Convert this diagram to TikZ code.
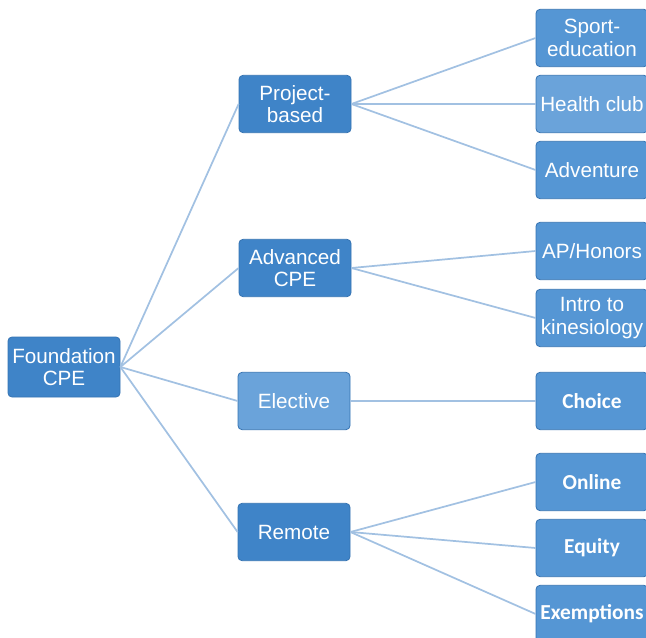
\documentclass[tikz,border=0pt]{standalone}
\usepackage{fontspec}
\setmainfont{Liberation Sans}
\newfontfamily\calibrifont{Carlito}
\usepackage{tikz}
\usetikzlibrary{positioning}

\definecolor{darkbox}{HTML}{3F84C8}
\definecolor{midbox}{HTML}{5596D4}
\definecolor{lightbox}{HTML}{6AA3DA}
\definecolor{boxline}{HTML}{3573B2}
\definecolor{linkline}{HTML}{A2C1E2}

\tikzset{
  box/.style={rectangle, rounded corners=3pt, draw=boxline, line width=0.6pt,
    text=white, align=center, inner sep=0pt,
    font=\fontsize{15.5}{17}\selectfont},
  rootbox/.style={box, fill=darkbox, minimum width=84pt, minimum height=45pt},
  branchbox/.style={box, fill=darkbox, minimum width=84pt, minimum height=43pt},
  leafbox/.style={box, fill=midbox, minimum width=84pt, minimum height=43pt},
  pale/.style={fill=lightbox},
  boldtext/.style={font=\calibrifont\bfseries\fontsize{16}{18}\selectfont},
  link/.style={draw=linkline, line width=1.3pt}
}

\begin{document}
\begin{tikzpicture}[x=0.75pt, y=-0.75pt]

    \useasboundingbox (0,0) rectangle (646,638);

    % Root
    \node[rootbox] (found) at (64,367) {Foundation\\CPE}; % foundation

    % Branches
    \node[branchbox] (proj) at (295,104) {Project-\\based}; % project-based
    \node[branchbox] (adv) at (295,268) {Advanced\\CPE}; % advanced
    \node[branchbox, pale] (elec) at (294,401) {Elective}; % elective
    \node[branchbox] (remote) at (294,532) {Remote}; % remote

    % Leaves
    \node[leafbox] (sport) at (592,38) {Sport-\\education};
    \node[leafbox, pale] (health) at (592,104) {Health club};
    \node[leafbox] (advent) at (592,170) {Adventure};
    \node[leafbox] (aphon) at (592,251) {AP/Honors};
    \node[leafbox] (intro) at (592,318) {Intro to\\kinesiology};
    \node[leafbox, boldtext] (choice) at (592,401) {Choice};
    \node[leafbox, boldtext] (online) at (592,482) {Online};
    \node[leafbox, boldtext] (equity) at (592,548) {Equity};
    \node[leafbox, boldtext] (exempt) at (592,614) {Exemptions};

    % Edges
    \foreach \b in {proj,adv,elec,remote}
      \draw[link] (found.east) -- (\b.west);
    \foreach \l in {sport,health,advent}
      \draw[link] (proj.east) -- (\l.west);
    \foreach \l in {aphon,intro}
      \draw[link] (adv.east) -- (\l.west);
    \draw[link] (elec.east) -- (choice.west);
    \foreach \l in {online,equity,exempt}
      \draw[link] (remote.east) -- (\l.west);

  \end{tikzpicture}
\end{document}
